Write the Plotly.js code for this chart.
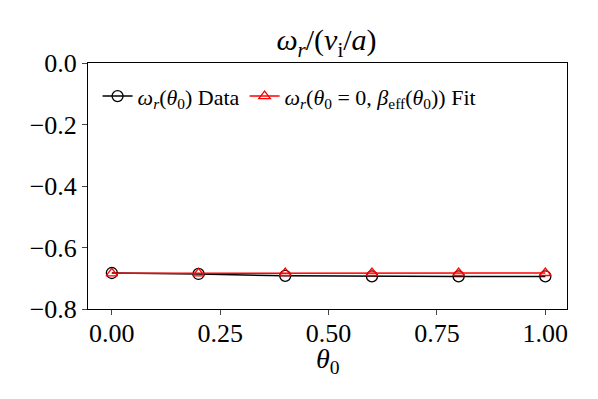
<!DOCTYPE html>
<html>
<head>
<meta charset="utf-8">
<script src="https://cdn.plot.ly/plotly-3.0.1.min.js"></script>
<style>body{margin:0;background:#fff}</style>
</head>
<body>
<div id="plot" style="width:598px;height:399px"></div>
<script>
// theta_0 values and omega_r readings
const theta0 = [0.0, 0.2, 0.4, 0.6, 0.8, 1.0];
const omegaData = [-0.683, -0.686, -0.692, -0.694, -0.694, -0.694];
const omegaFit = [-0.684, -0.684, -0.683, -0.683, -0.683, -0.683];

const yTicks = [0.0, -0.2, -0.4, -0.6, -0.8];
const yTickText = ['0.0', '\u22120.2', '\u22120.4', '\u22120.6', '\u22120.8'];
const xTicks = [0, 0.25, 0.5, 0.75, 1.0];
const xTickText = ['0.00', '0.25', '0.50', '0.75', '1.00'];

const serif = 'Liberation Serif, DejaVu Serif, serif';

const dataTrace = {
  x: theta0,
  y: omegaData,
  type: 'scatter',
  mode: 'lines+markers',
  line: { color: '#000', width: 1.5 },
  marker: { symbol: 'circle-open', size: 11, color: '#000', line: { width: 1.3 } },
  name: '<i>ω<sub>r</sub></i>(<i>θ</i><sub>0</sub>) Data'
};

const fitTrace = {
  x: theta0,
  y: omegaFit,
  type: 'scatter',
  mode: 'lines+markers',
  line: { color: '#ff0000', width: 1.5 },
  marker: { symbol: 'triangle-up-open', size: 10, color: '#ff0000', line: { width: 1.3 } },
  name: '<i>ω<sub>r</sub></i>(<i>θ</i><sub>0</sub> = 0, <i>β</i><sub>eff</sub>(<i>θ</i><sub>0</sub>)) Fit'
};

const layout = {
  width: 598,
  height: 399,
  font: { family: serif, size: 26, color: '#000' },
  title: {
    text: '<i>ω<sub>r</sub></i>/(<i>v</i><sub>i</sub>/<i>a</i>)',
    font: { size: 30 },
    x: 0.546, xanchor: 'center',
    y: 0.9, yanchor: 'middle'
  },
  xaxis: {
    range: [-0.055, 1.05],
    tickvals: xTicks,
    ticktext: xTickText,
    ticks: 'outside', ticklen: 5, tickwidth: 1,
    ticklabelstandoff: -4,
    showline: true, mirror: true, linecolor: '#000', linewidth: 1,
    showgrid: false, zeroline: false
  },
  yaxis: {
    range: [-0.8, 0.0],
    tickvals: yTicks,
    ticktext: yTickText,
    ticks: 'outside', ticklen: 5, tickwidth: 1,
    showline: true, mirror: true, linecolor: '#000', linewidth: 1,
    showgrid: false, zeroline: false
  },
  annotations: [{
    text: '<i>θ</i><sub>0</sub>',
    xref: 'paper', yref: 'paper', x: 0.5, y: 0,
    xanchor: 'center', yanchor: 'top', yshift: -32,
    showarrow: false, font: { size: 28 }
  }],
  legend: {
    orientation: 'h',
    x: 0.02, y: 0.95, xanchor: 'left', yanchor: 'top',
    font: { size: 22 },
    bgcolor: 'rgba(255,255,255,0)',
    itemwidth: 30
  },
  margin: { l: 88, r: 31, t: 63, b: 90 },
  plot_bgcolor: '#fff',
  paper_bgcolor: '#fff'
};

Plotly.newPlot('plot', [dataTrace, fitTrace], layout, { displayModeBar: false });
</script>
</body>
</html>
